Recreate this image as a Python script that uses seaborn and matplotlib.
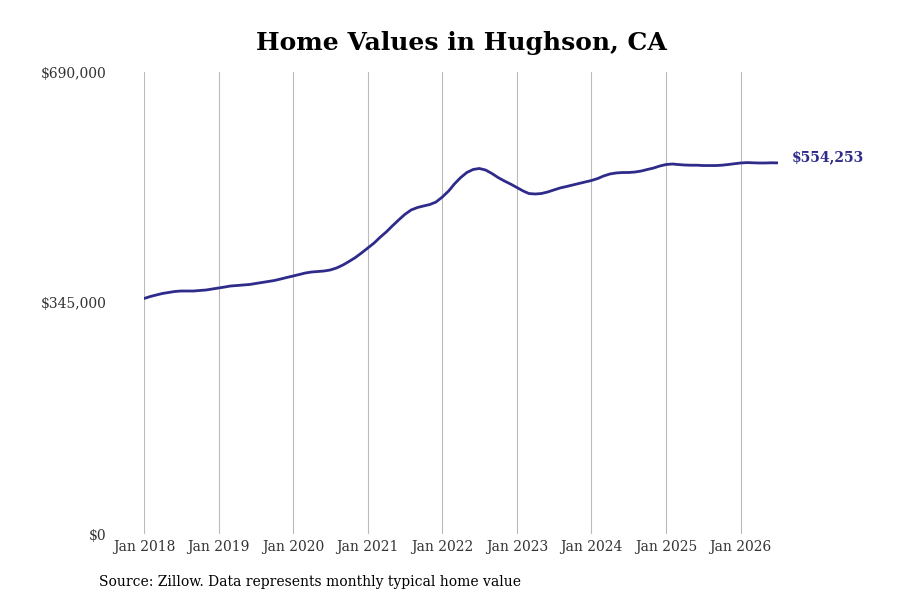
import numpy as np
import pandas as pd
import matplotlib
matplotlib.use("Agg")
import matplotlib.pyplot as plt
import seaborn as sns

# Monthly typical home value (thousands of $), Jan 2018 .. Jul 2026
values_k = [
    351.7, 354.7, 356.9, 359.2, 360.7, 362.2, 362.9, 362.9, 362.9, 363.7, 364.4, 365.9,
    367.4, 368.9, 370.4, 371.1, 371.9, 372.6, 374.1, 375.6, 377.1, 378.6, 380.8, 383.1,
    385.3, 387.6, 389.8, 391.3, 392.0, 392.8, 394.3, 397.3, 401.7, 407.0, 412.9, 419.7,
    427.1, 434.6, 442.8, 451.0, 460.0, 469.0, 477.2, 483.9, 487.6, 489.9, 492.1, 495.8,
    503.3, 512.3, 522.7, 532.4, 539.9, 544.4, 545.9, 543.6, 538.4, 532.4, 527.2, 522.7,
    517.5, 512.3, 508.5, 507.8, 508.5, 510.8, 513.8, 516.8, 519.0, 521.2, 523.5, 525.7,
    527.9, 530.9, 534.7, 537.7, 539.2, 539.9, 539.9, 540.6, 542.1, 544.4, 546.6, 549.6,
    551.8, 552.6, 551.8, 551.1, 550.8, 550.8, 550.3, 550.3, 550.3, 550.8, 551.8, 553.0,
    554.1, 554.7, 554.4, 554.1, 554.1, 554.4, 554.253,
]
start_month = "2018-01-01"
y_ticks = [0, 345000, 690000]
y_tick_labels = ["$0", "$345,000", "$690,000"]
x_tick_years = list(range(2018, 2027))
title = "Home Values in Hughson, CA"
source = "Source: Zillow. Data represents monthly typical home value"
end_label = "$554,253"

dates = pd.date_range(start_month, periods=len(values_k), freq="MS")
df = pd.DataFrame({"date": dates, "value": np.array(values_k) * 1000})

sns.set_theme(style="white")
plt.rcParams["font.family"] = ["DejaVu Serif"]

line_color = "#2e2b8a"

fig = plt.figure(figsize=(9, 6), dpi=100)
ax = fig.add_axes([0.16, 0.11, 0.704, 0.77])

sns.lineplot(data=df, x="date", y="value", ax=ax, color=line_color, linewidth=2.0)

ax.set_xlim(dates[0], dates[-1])
ax.set_ylim(0, 690000)
ax.set_yticks(y_ticks)
ax.set_yticklabels(y_tick_labels)
xt = [pd.Timestamp(f"{y}-01-01") for y in x_tick_years]
ax.set_xticks(xt)
ax.set_xticklabels([f"Jan {y}" for y in x_tick_years])

ax.grid(axis="x", color="#bbbbbb", linewidth=0.8)
ax.grid(axis="y", visible=False)
for s in ax.spines.values():
    s.set_visible(False)
ax.tick_params(axis="both", length=0, labelsize=10, colors="#333333")
ax.tick_params(axis="y", pad=27)
ax.tick_params(axis="x", pad=4)
ax.set_xlabel("")
ax.set_ylabel("")

ax.annotate(end_label, xy=(dates[-1], df["value"].iloc[-1]), xytext=(10, 4),
            textcoords="offset points", va="center", ha="left",
            fontsize=10, fontweight="bold", color=line_color)

fig.text(0.513, 0.928, title, ha="center", va="center", fontsize=18, fontweight="bold", color="black")
fig.text(0.11, 0.03, source, ha="left", va="center", fontsize=10, color="black")

fig.savefig("out.png", dpi=100, facecolor="white")
